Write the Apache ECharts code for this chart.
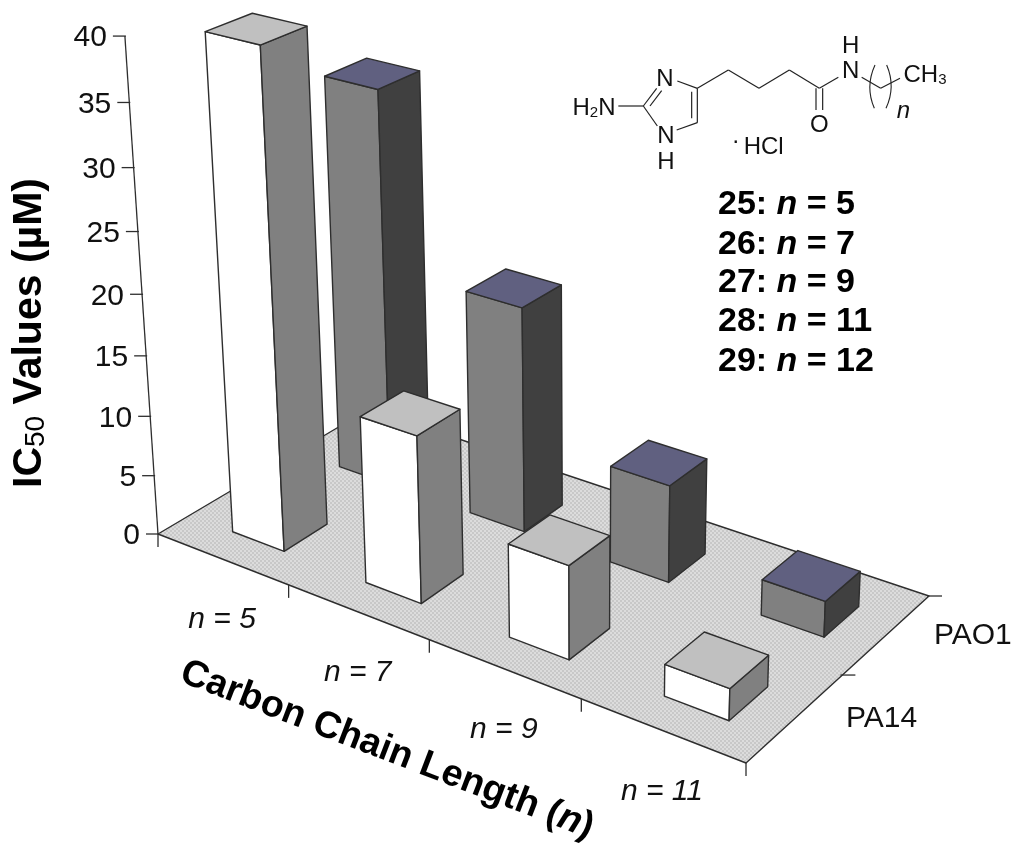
<!DOCTYPE html>
<html><head><meta charset="utf-8">
<style>html,body{margin:0;padding:0;background:#fff}#c{width:1024px;height:854px}</style>
<script src="https://cdn.jsdelivr.net/npm/echarts@6/dist/echarts.min.js"></script>
</head><body><div id="c"></div>
<script>
// ---- data ----
const chainLengths = ['n = 5', 'n = 7', 'n = 9', 'n = 11'];
const strains = ['PA14', 'PAO1'];
const pa14Values = [40.2, 13.6, 7.5, 2.5];
const pao1Values = [33.1, 18.7, 8, 2.9];
const yTicks = [0, 5, 10, 15, 20, 25, 30, 35, 40];
const yMax = 40;
const compoundLines = ['25: ', '26: ', '27: ', '28: ', '29: '];
const compoundN = ['5', '7', '9', '11', '12'];

// ---- camera: floor corners on screen, vanishing point of the verticals ----
const FL = [158, 534], FR = [746, 763], BR = [929, 596], BL = [369, 409];
const VANISH = [588, 7000], RISE = -0.0715;
const den = (FR[0]-BR[0])*(BL[1]-BR[1]) - (BL[0]-BR[0])*(FR[1]-BR[1]);
const sx = FL[0]-FR[0]+BR[0]-BL[0], sy = FL[1]-FR[1]+BR[1]-BL[1];
const G = (sx*(BL[1]-BR[1]) - (BL[0]-BR[0])*sy)/den;
const H = ((FR[0]-BR[0])*sy - sx*(FR[1]-BR[1]))/den;
const A = FR[0]-FL[0]+G*FR[0], B = BL[0]-FL[0]+H*BL[0];
const D = FR[1]-FL[1]+G*FR[1], E = BL[1]-FL[1]+H*BL[1];
function project(u, v, h) { // u,v,h each 0..1
  const t = RISE*h;
  const w = G*u + H*v + 1 + t;
  return [(A*u + B*v + FL[0] + t*VANISH[0])/w, (D*u + E*v + FL[1] + t*VANISH[1])/w];
}
// Read fractions from the library's own axes.
function fracU(api, params, idx) { return (api.coord([idx, 0])[0] - params.coordSys.x)/params.coordSys.width; }
function fracH(api, params, val) { return (params.coordSys.y + params.coordSys.height - api.coord([0, val])[1])/params.coordSys.height; }

const INK = '#2e2e2e', FONT = '"Liberation Sans", Arial, sans-serif';
const LINE = {stroke: INK, lineWidth: 1.3, fill: 'none'};

function floorPattern() {
  const c = document.createElement('canvas'); c.width = c.height = 4;
  const g = c.getContext('2d');
  g.fillStyle = '#dcdcdc'; g.fillRect(0, 0, 4, 4);
  g.fillStyle = '#c8c8c8'; g.fillRect(0, 0, 2, 2); g.fillRect(2, 2, 2, 2);
  return c;
}
function poly(pts, fill) {
  return {type: 'polygon', shape: {points: pts}, style: {fill, stroke: INK, lineWidth: 1.4, lineJoin: 'round'}};
}
function line(a, b) {
  return {type: 'line', shape: {x1: a[0], y1: a[1], x2: b[0], y2: b[1]}, style: LINE};
}
function text(t, x, y, size, extra) {
  return {type: 'text', style: Object.assign({text: t, x, y, fill: '#111', font: size + 'px ' + FONT, align: 'center', verticalAlign: 'middle'}, extra || {})};
}
function barRenderer(depthIdx, colors) {
  return function (params, api) {
    const i = api.value(0), val = api.value(1);
    const uc = fracU(api, params, i), bw = api.size([1, 0])[0]/params.coordSys.width;
    const u0 = uc - bw*0.16, u1 = uc + bw*0.235;
    const vc = (depthIdx + 0.5)/strains.length, v0 = vc - 0.112, v1 = vc + 0.085;
    const h = fracH(api, params, val);
    const p = (u, v, z) => project(u, v, z);
    return {type: 'group', children: [
      poly([p(u0,v0,0), p(u1,v0,0), p(u1,v0,h), p(u0,v0,h)], colors[0]),
      poly([p(u1,v0,0), p(u1,v1,0), p(u1,v1,h), p(u1,v0,h)], colors[1]),
      poly([p(u0,v0,h), p(u1,v0,h), p(u1,v1,h), p(u0,v1,h)], colors[2])
    ]};
  };
}

function structure() {
  const X = x => 540 + x/3, Y = y => 20 + y/3;
  const segs = [
    [235,258,310,258],[310,258,350,205],[330,258,365,212],[310,258,352,318],
    [410,330,472,308],[472,308,472,205],[455,295,455,215],[472,205,412,183],
    [472,205,565,150],[565,150,657,205],[657,205,748,150],[748,150,838,205],
    [828,205,828,270],[848,205,848,270],[838,205,895,172],
    [965,172,1022,205],[1022,205,1080,175]
  ];
  const els = segs.map(s => ({type: 'line', silent: true, z: 10,
    shape: {x1: X(s[0]), y1: Y(s[1]), x2: X(s[2]), y2: Y(s[3])},
    style: {stroke: '#222', lineWidth: 1.2}}));
  const curves = [[1005,135,975,200,1003,265],[1040,135,1068,200,1038,265]];
  curves.forEach(c => els.push({type: 'bezierCurve', silent: true, z: 10,
    shape: {x1: X(c[0]), y1: Y(c[1]), cpx1: X(c[2]), cpy1: Y(c[3]), x2: X(c[4]), y2: Y(c[5])},
    style: {stroke: '#222', lineWidth: 1.1, fill: 'none'}}));
  const sym = (t, x, y, o) => ({type: 'text', x: X(x), y: Y(y), silent: true, z: 10,
    style: Object.assign({text: t, align: 'center', verticalAlign: 'middle', fill: '#111', font: '24px ' + FONT}, o || {})});
  const sub = {a: {font: '24px ' + FONT, fill: '#111'}, s: {font: '15px ' + FONT, fill: '#111', verticalAlign: 'bottom'}};
  els.push(
    sym('{a|H}{s|2}{a|N}', 162, 264, {rich: sub}),
    sym('N', 375, 178), sym('N', 378, 350), sym('H', 378, 428),
    sym('O', 838, 316), sym('N', 932, 155), sym('H', 932, 80),
    sym('{a|CH}{s|3}', 1155, 167, {rich: sub}),
    sym('n', 1090, 275, {font: 'italic 24px ' + FONT}),
    sym('·', 587, 365), sym('HCl', 671, 382)
  );
  return els;
}

const chart = echarts.init(document.getElementById('c'));
const pat = {image: floorPattern(), repeat: 'repeat'};
const option = {
  animation: false,
  backgroundColor: '#fff',
  grid: {left: 0, top: 0, width: 1024, height: 854},
  xAxis: {type: 'category', data: chainLengths, show: false},
  yAxis: {type: 'value', min: 0, max: yMax, interval: 5, show: false},
  series: [
    {name: 'floor', type: 'custom', data: [[0, 0]], silent: true, z: 1,
     renderItem(params, api) {
       return poly([project(0,0,0), project(1,0,0), project(1,1,0), project(0,1,0)], pat);
     }},
    {name: 'value axis', type: 'custom', data: yTicks.map(t => [0, t]), silent: true, z: 2,
     renderItem(params, api) {
       const val = api.value(1), q = project(0, 0, fracH(api, params, val));
       const kids = [line([q[0]-12, q[1]], [q[0]+1, q[1]]),
         text(String(val), q[0]-18, q[1]+2, 30, {align: 'right'})];
       if (val === yMax) kids.push(line(project(0,0,0), q));
       if (val === 0) kids.push(line(q, [q[0], q[1]+13]));
       return {type: 'group', children: kids};
     }},
    {name: 'chain axis', type: 'custom', data: chainLengths.map((c, i) => [i, 0]), silent: true, z: 2,
     renderItem(params, api) {
       const i = api.value(0), uc = fracU(api, params, i), bw = api.size([1, 0])[0]/params.coordSys.width;
       const e = project(uc + bw/2, 0, 0), m = project(uc, 0, 0);
       return {type: 'group', children: [
         line(e, [e[0], e[1]+13]),
         text(chainLengths[i], m[0], m[1]+61, 30, {font: 'italic 30px ' + FONT})
       ]};
     }},
    {name: 'strain axis', type: 'custom', data: strains.map((s, i) => [0, i]), silent: true, z: 2,
     renderItem(params, api) {
       const j = api.value(1), n = strains.length;
       const e = project(1, (j+1)/n, 0), m = project(1, (j+0.5)/n, 0);
       return {type: 'group', children: [
         line([e[0]-2, e[1]], [e[0]+13, e[1]]),
         text(strains[j], m[0]+86, m[1]+1, 30)
       ]};
     }},
    {name: strains[1], type: 'custom', z: 3, silent: true,
     data: pao1Values.map((v, i) => [i, v]),
     renderItem: barRenderer(1, ['#808080', '#404040', '#606080'])},
    {name: strains[0], type: 'custom', z: 4, silent: true,
     data: pa14Values.map((v, i) => [i, v]),
     renderItem: barRenderer(0, ['#ffffff', '#808080', '#c0c0c0'])}
  ],
  graphic: {elements: [
    {type: 'text', x: 30, y: 333, rotation: Math.PI/2, silent: true, z: 10,
     style: {text: '{b|IC}{s|50}{b| Values (µM)}', align: 'center', verticalAlign: 'middle', fill: '#000',
       rich: {b: {font: 'bold 41px ' + FONT, fill: '#000'}, s: {font: '28px ' + FONT, fill: '#000', verticalAlign: 'bottom'}}}},
    {type: 'text', x: 387, y: 750, rotation: -21*Math.PI/180, silent: true, z: 10,
     style: {text: '{b|Carbon Chain Length (}{i|n}{b|)}', align: 'center', verticalAlign: 'middle',
       rich: {b: {font: 'bold 37.5px ' + FONT, fill: '#000'}, i: {font: 'italic bold 37.5px ' + FONT, fill: '#000'}}}}
  ].concat(
    compoundLines.map((c, k) => ({type: 'text', x: 718, y: [205, 245, 283, 322, 362][k], silent: true, z: 10,
      style: {text: '{b|' + c + '}{i|n}{b| = ' + compoundN[k] + '}', align: 'left', verticalAlign: 'middle',
        rich: {b: {font: 'bold 34px ' + FONT, fill: '#000'}, i: {font: 'italic bold 34px ' + FONT, fill: '#000'}}}}))
  ).concat(structure())}
};
chart.setOption(option);
</script></body></html>
